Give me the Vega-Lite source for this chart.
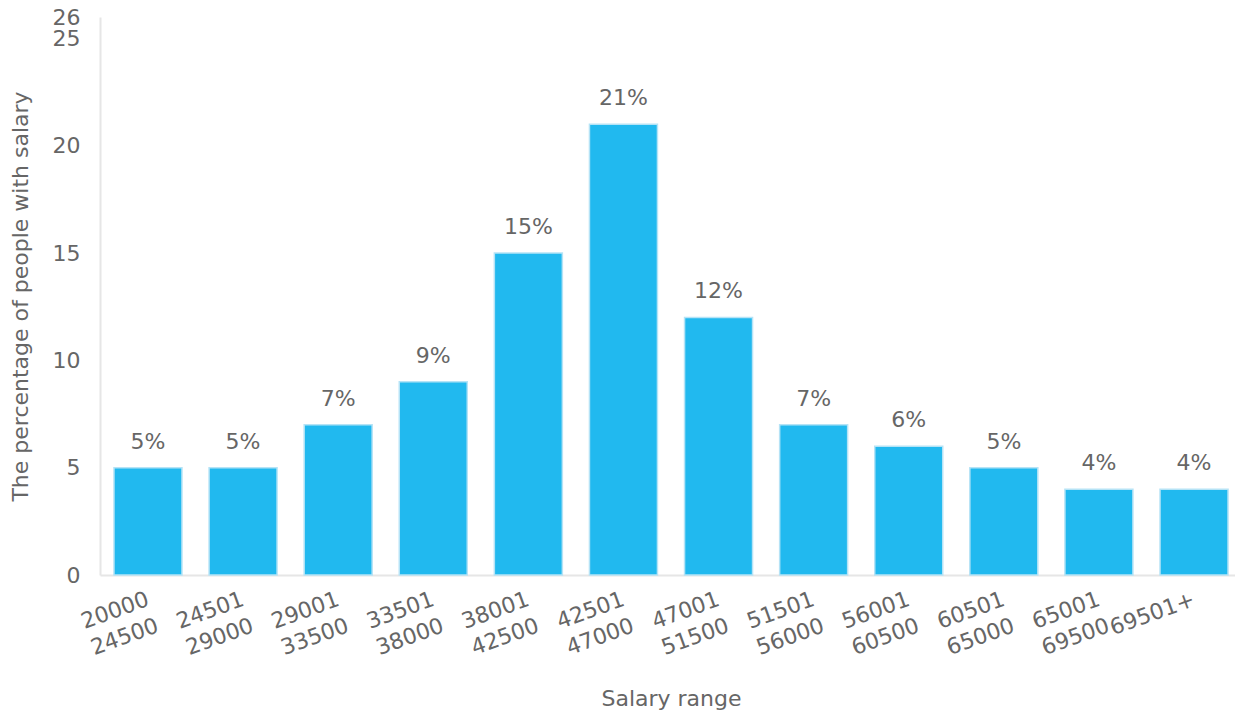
{
  "$schema": "https://vega.github.io/schema/vega-lite/v6.json",
  "autosize": "none",
  "padding": {"left": 100, "top": 17, "right": 0, "bottom": 146},
  "width": 1142,
  "height": 558,
  "background": "white",
  "config": {
    "font": "DejaVu Sans",
    "view": {"stroke": null},
    "axis": {"labelFont": "DejaVu Sans", "titleFont": "DejaVu Sans", "labelColor": "#666666", "titleColor": "#666666", "labelFontSize": 22, "titleFontSize": 22, "titleFontWeight": "normal", "grid": false, "ticks": false, "domainColor": "#e6e6e6", "domainWidth": 2, "labelOverlap": false}
  },
  "data": {
    "values": [
      {"range": "20000\n24500", "pct": 5},
      {"range": "24501\n29000", "pct": 5},
      {"range": "29001\n33500", "pct": 7},
      {"range": "33501\n38000", "pct": 9},
      {"range": "38001\n42500", "pct": 15},
      {"range": "42501\n47000", "pct": 21},
      {"range": "47001\n51500", "pct": 12},
      {"range": "51501\n56000", "pct": 7},
      {"range": "56001\n60500", "pct": 6},
      {"range": "60501\n65000", "pct": 5},
      {"range": "65001\n69500", "pct": 4},
      {"range": "69501+", "pct": 4}
    ]
  },
  "encoding": {
    "x": {
      "field": "range", "type": "nominal", "sort": null,
      "scale": {"paddingInner": 0.285, "paddingOuter": 0.147},
      "axis": {"title": "Salary range", "labelAngle": -20, "labelAlign": "right", "labelBaseline": "middle", "labelExpr": "split(datum.value, '\\n')", "labelPadding": 23, "labelDx": 1, "titlePadding": 30, "labelLineHeight": 28, "labelOverlap": false}
    },
    "y": {
      "field": "pct", "type": "quantitative",
      "scale": {"domain": [0, 26], "nice": false},
      "axis": {"title": "The percentage of people with salary", "values": [0, 5, 10, 15, 20, 25, 26], "labelPadding": 20, "titlePadding": 20, "labelOverlap": false}
    }
  },
  "layer": [
    {"mark": {"type": "bar", "color": "#21B9EF", "stroke": "#b5e3f6", "strokeWidth": 1.5}},
    {"mark": {"type": "text", "baseline": "alphabetic", "dy": -19, "fontSize": 22, "color": "#666666", "text": {"expr": "datum.pct + '%'"}}}
  ]
}
